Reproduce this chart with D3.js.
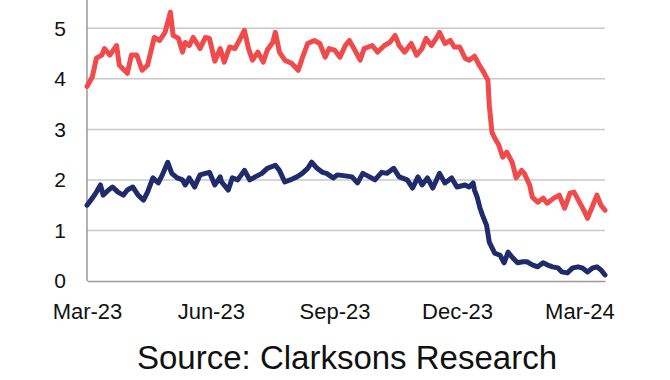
<!DOCTYPE html>
<html>
<head>
<meta charset="utf-8">
<script src="https://cdn.jsdelivr.net/npm/d3@7"></script>
<style>
	html, body { margin: 0; padding: 0; background: #fff; }
	svg { display: block; }
</style>
</head>
<body>
<svg id="chart" width="670" height="380"></svg>
<script>
// --------- data -----------

var redDates = [
	"2023-03-01", "2023-03-05", "2023-03-08", "2023-03-12", "2023-03-14", "2023-03-18", "2023-03-23", "2023-03-25",
	"2023-03-31", "2023-04-03", "2023-04-07", "2023-04-11", "2023-04-15", "2023-04-18", "2023-04-20", "2023-04-24",
	"2023-04-28", "2023-05-02", "2023-05-04", "2023-05-08", "2023-05-11", "2023-05-13", "2023-05-16", "2023-05-19",
	"2023-05-24", "2023-05-28", "2023-05-31", "2023-06-04", "2023-06-08", "2023-06-11", "2023-06-15", "2023-06-19",
	"2023-06-23", "2023-06-26", "2023-06-29", "2023-07-02", "2023-07-06", "2023-07-10", "2023-07-13", "2023-07-17",
	"2023-07-19", "2023-07-22", "2023-07-26", "2023-07-31", "2023-08-05", "2023-08-08", "2023-08-12", "2023-08-17",
	"2023-08-21", "2023-08-25", "2023-08-28", "2023-09-01", "2023-09-05", "2023-09-09", "2023-09-12", "2023-09-16",
	"2023-09-20", "2023-09-23", "2023-09-29", "2023-10-03", "2023-10-08", "2023-10-12", "2023-10-16", "2023-10-19",
	"2023-10-23", "2023-10-28", "2023-11-01", "2023-11-05", "2023-11-08", "2023-11-12", "2023-11-16", "2023-11-18",
	"2023-11-22", "2023-11-26", "2023-11-29", "2023-12-03", "2023-12-07", "2023-12-10", "2023-12-14", "2023-12-18",
	"2023-12-20", "2023-12-24", "2023-12-25", "2023-12-27", "2023-12-29", "2024-01-01", "2024-01-04", "2024-01-07",
	"2024-01-11", "2024-01-14", "2024-01-18", "2024-01-20", "2024-01-24", "2024-01-26", "2024-01-30", "2024-02-03",
	"2024-02-06", "2024-02-11", "2024-02-15", "2024-02-19", "2024-02-23", "2024-02-26", "2024-03-01", "2024-03-05",
	"2024-03-07", "2024-03-11", "2024-03-14", "2024-03-17", "2024-03-20"
];
var redValues = [
	3.85, 4.04, 4.41, 4.47, 4.60, 4.47, 4.66, 4.27,
	4.11, 4.47, 4.47, 4.17, 4.27, 4.60, 4.82, 4.76,
	4.92, 5.32, 4.86, 4.80, 4.53, 4.72, 4.66, 4.82,
	4.60, 4.82, 4.80, 4.35, 4.60, 4.33, 4.63, 4.60,
	4.80, 4.96, 4.60, 4.37, 4.53, 4.33, 4.57, 4.72,
	4.92, 4.53, 4.37, 4.31, 4.17, 4.41, 4.70, 4.76,
	4.70, 4.43, 4.60, 4.57, 4.43, 4.66, 4.76, 4.57,
	4.37, 4.60, 4.66, 4.53, 4.66, 4.72, 4.86, 4.66,
	4.53, 4.70, 4.47, 4.60, 4.80, 4.66, 4.82, 4.92,
	4.70, 4.76, 4.63, 4.63, 4.41, 4.37, 4.45, 4.25,
	4.17, 3.97, 3.48, 2.94, 2.83, 2.69, 2.45, 2.55,
	2.35, 2.04, 2.19, 2.13, 1.90, 1.66, 1.56, 1.64,
	1.54, 1.64, 1.70, 1.44, 1.74, 1.76, 1.56, 1.36,
	1.24, 1.50, 1.70, 1.50, 1.40
];

var blueDates = [
	"2023-03-01", "2023-03-05", "2023-03-08", "2023-03-11", "2023-03-13", "2023-03-17", "2023-03-20", "2023-03-24",
	"2023-03-28", "2023-03-31", "2023-04-04", "2023-04-08", "2023-04-12", "2023-04-15", "2023-04-19", "2023-04-23",
	"2023-04-26", "2023-04-30", "2023-05-03", "2023-05-07", "2023-05-11", "2023-05-13", "2023-05-16", "2023-05-20",
	"2023-05-24", "2023-05-28", "2023-05-31", "2023-06-04", "2023-06-08", "2023-06-09", "2023-06-14", "2023-06-17",
	"2023-06-21", "2023-06-26", "2023-06-30", "2023-07-04", "2023-07-09", "2023-07-13", "2023-07-19", "2023-07-22",
	"2023-07-26", "2023-07-30", "2023-08-04", "2023-08-08", "2023-08-12", "2023-08-15", "2023-08-19", "2023-08-23",
	"2023-08-26", "2023-08-31", "2023-09-03", "2023-09-09", "2023-09-14", "2023-09-18", "2023-09-22", "2023-09-27",
	"2023-10-01", "2023-10-06", "2023-10-10", "2023-10-15", "2023-10-19", "2023-10-25", "2023-10-29", "2023-11-02",
	"2023-11-05", "2023-11-09", "2023-11-13", "2023-11-18", "2023-11-22", "2023-11-27", "2023-12-01", "2023-12-07",
	"2023-12-10", "2023-12-13", "2023-12-14", "2023-12-16", "2023-12-18", "2023-12-20", "2023-12-23", "2023-12-25",
	"2023-12-29", "2024-01-02", "2024-01-05", "2024-01-08", "2024-01-11", "2024-01-15", "2024-01-19", "2024-01-22",
	"2024-01-26", "2024-01-30", "2024-02-03", "2024-02-06", "2024-02-10", "2024-02-14", "2024-02-17", "2024-02-21",
	"2024-02-25", "2024-02-29", "2024-03-03", "2024-03-07", "2024-03-11", "2024-03-14", "2024-03-17", "2024-03-20"
];
var blueValues = [
	1.50, 1.64, 1.76, 1.90, 1.70, 1.80, 1.86, 1.76,
	1.70, 1.80, 1.86, 1.70, 1.60, 1.76, 2.04, 1.94,
	2.10, 2.35, 2.13, 2.04, 2.00, 1.90, 2.04, 1.86,
	2.10, 2.13, 2.15, 1.90, 2.06, 1.96, 1.80, 2.04,
	2.00, 2.19, 2.00, 2.06, 2.13, 2.23, 2.29, 2.19,
	1.96, 2.00, 2.06, 2.13, 2.23, 2.35, 2.23, 2.15,
	2.13, 2.04, 2.10, 2.08, 2.06, 1.94, 2.13, 2.06,
	2.00, 2.15, 2.13, 2.23, 2.06, 2.00, 1.84, 2.06,
	1.90, 2.04, 1.84, 2.13, 1.94, 2.04, 1.86, 1.90,
	1.86, 1.94, 1.80, 1.66, 1.45, 1.30, 1.10, 0.77,
	0.55, 0.51, 0.36, 0.57, 0.47, 0.36, 0.38, 0.38,
	0.32, 0.28, 0.36, 0.32, 0.28, 0.26, 0.18, 0.16,
	0.26, 0.28, 0.26, 0.18, 0.26, 0.28, 0.22, 0.12
];

var yTicks = [0, 1, 2, 3, 4, 5];
var xTickDates = ["2023-03-01", "2023-06-01", "2023-09-01", "2023-12-01", "2024-03-01"];
var sourceText = "Source: Clarksons Research";

// --------- chart -----------

var parseDate = d3.timeParse("%Y-%m-%d");
var svg = d3.select("#chart");

var x = d3.scaleTime()
	.domain([parseDate("2023-03-01"), parseDate("2024-03-20")])
	.range([87, 605]);

// plot top runs off the picture, so 6 sits above the visible edge
var y = d3.scaleLinear()
	.domain([0, 6])
	.range([281, -22.2]);

var toPoints = function(dates, values) {
	return dates.map(function(d, i) {
		return { date: parseDate(d), value: values[i] };
	});
};

// gridlines
svg.append("g")
	.attr("class", "grid")
	.selectAll("line")
	.data(yTicks.filter(function(t) { return t > 0; }).concat([6]))
	.enter()
	.append("line")
	.attr("x1", x.range()[0])
	.attr("x2", x.range()[1])
	.attr("y1", function(d) { return y(d); })
	.attr("y2", function(d) { return y(d); })
	.attr("stroke", "#c9c9c9")
	.attr("stroke-width", 1.5);

// y axis
var yAxis = svg.append("g")
	.attr("transform", "translate(" + x.range()[0] + ",0)")
	.call(d3.axisLeft(y).tickValues(yTicks).tickSize(0).tickPadding(21).tickFormat(d3.format("d")));
yAxis.select(".domain")
	.attr("d", "M0," + y(0) + "V-30")
	.attr("stroke", "#9a9a9a")
	.attr("stroke-width", 1.5);
yAxis.selectAll("text")
	.style("font-family", "'Liberation Sans', Arial, sans-serif")
	.style("font-size", "21px")
	.attr("fill", "#111");

// x axis
var xAxis = svg.append("g")
	.attr("transform", "translate(0," + y(0) + ")")
	.call(d3.axisBottom(x).tickValues(xTickDates.map(parseDate)).tickSize(0).tickPadding(22).tickFormat(d3.timeFormat("%b-%y")));
xAxis.select(".domain")
	.attr("stroke", "#9a9a9a")
	.attr("stroke-width", 1.5);
xAxis.selectAll("text")
	.style("font-family", "'Liberation Sans', Arial, sans-serif")
	.style("font-size", "22px")
	.attr("fill", "#111");

// series lines
var line = d3.line()
	.x(function(d) { return x(d.date); })
	.y(function(d) { return y(d.value); });

svg.append("path")
	.datum(toPoints(redDates, redValues))
	.attr("d", line)
	.attr("fill", "none")
	.attr("stroke", "#f04a4b")
	.attr("stroke-width", 5)
	.attr("stroke-linejoin", "round")
	.attr("stroke-linecap", "round");

svg.append("path")
	.datum(toPoints(blueDates, blueValues))
	.attr("d", line)
	.attr("fill", "none")
	.attr("stroke", "#1f2b6c")
	.attr("stroke-width", 5)
	.attr("stroke-linejoin", "round")
	.attr("stroke-linecap", "round");

// source footer
svg.append("text")
	.attr("x", 347)
	.attr("y", 369)
	.attr("text-anchor", "middle")
	.style("font-family", "'Liberation Sans', Arial, sans-serif")
	.style("font-size", "33px")
	.attr("fill", "#111")
	.text(sourceText);
</script>
</body>
</html>
